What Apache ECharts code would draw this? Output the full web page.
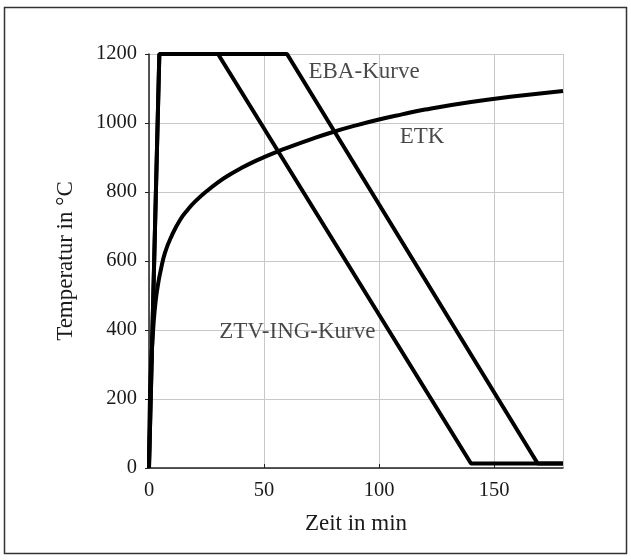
<!DOCTYPE html>
<html>
<head>
<meta charset="utf-8">
<script src="https://cdn.jsdelivr.net/npm/echarts@6/dist/echarts.min.js"></script>
<style>
  html, body { margin: 0; padding: 0; background: #fff; }
  #chart { width: 631px; height: 560px; }
</style>
</head>
<body>
<div id="chart"></div>
<script>
// Zeit in min / Temperatur in °C
const etk = [[0, 20], [0.5, 230], [1, 310], [2, 420], [3, 490], [4, 535], [5, 570], [7, 625],
  [10, 675], [13.5, 719], [17, 750], [20, 772], [25, 802], [30, 828], [35, 850], [40, 869],
  [45, 886], [50, 901], [55, 915], [60, 928], [70, 952], [80, 974], [90, 993], [100, 1010],
  [110, 1025], [120, 1039], [140, 1061], [160, 1078], [180, 1093]];
const ztvIng = [[0, 0], [4.5, 1200], [30, 1200], [140, 13], [180, 13]];
const eba = [[0, 0], [4.5, 1200], [60, 1200], [169, 13], [180, 13]];
// Beschriftungen im Diagramm
const labels = [
  { text: 'EBA-Kurve', pos: [93.5, 1148] },
  { text: 'ETK', pos: [118.7, 959] },
  { text: 'ZTV-ING-Kurve', pos: [64.5, 394] }
];

const font = 'Liberation Serif';
const textColor = '#1a1a1a';

const myChart = echarts.init(document.getElementById('chart'));

// Linienstil für alle Kurven
const lineSeries = (name, data, smooth) => ({
  type: 'line',
  name: name,
  data: data,
  symbol: 'none',
  smooth: smooth,
  clip: false,
  silent: true,
  lineStyle: { color: '#000', width: 4 },
  z: 3
});

const option = {
  animation: false,
  graphic: [{
    type: 'rect',
    shape: { x: 4.5, y: 7.5, width: 622, height: 546 },
    style: { fill: 'none', stroke: '#333', lineWidth: 1.5 }
  }],
  grid: { left: 149, right: 68, top: 54, bottom: 92 },
  xAxis: {
    type: 'value',
    min: 0,
    max: 180,
    interval: 50,
    name: 'Zeit in min',
    nameLocation: 'middle',
    nameGap: 44,
    nameTextStyle: { fontFamily: font, fontSize: 23, color: textColor },
    axisLine: { show: true, lineStyle: { color: '#222', width: 1.5 } },
    axisTick: { show: true, inside: true, length: 4, lineStyle: { color: '#222' } },
    axisLabel: { fontFamily: font, fontSize: 20.5, color: textColor, margin: 12, showMaxLabel: false },
    splitLine: { show: true, lineStyle: { color: '#c8c8c8', width: 1 } }
  },
  yAxis: {
    type: 'value',
    min: 0,
    max: 1200,
    interval: 200,
    name: 'Temperatur in °C',
    nameLocation: 'middle',
    nameGap: 72,
    nameTextStyle: { fontFamily: font, fontSize: 23, color: textColor },
    axisLine: { show: true, lineStyle: { color: '#222', width: 1.5 } },
    axisTick: { show: true, length: 4, lineStyle: { color: '#222' } },
    axisLabel: { fontFamily: font, fontSize: 20.5, color: textColor, margin: 12, formatter: v => String(v) },
    splitLine: { show: true, lineStyle: { color: '#c8c8c8', width: 1 } }
  },
  series: [
    lineSeries('ETK', etk, 0.5),
    lineSeries('ZTV-ING-Kurve', ztvIng, false),
    lineSeries('EBA-Kurve', eba, false),
    {
      type: 'scatter',
      silent: true,
      symbolSize: 0,
      data: labels.map(l => ({ value: l.pos, name: l.text })),
      label: {
        show: true,
        position: 'inside',
        formatter: p => p.name,
        fontFamily: font,
        fontSize: 23,
        color: textColor
      },
      z: 4
    }
  ]
};

myChart.setOption(option);
</script>
</body>
</html>
